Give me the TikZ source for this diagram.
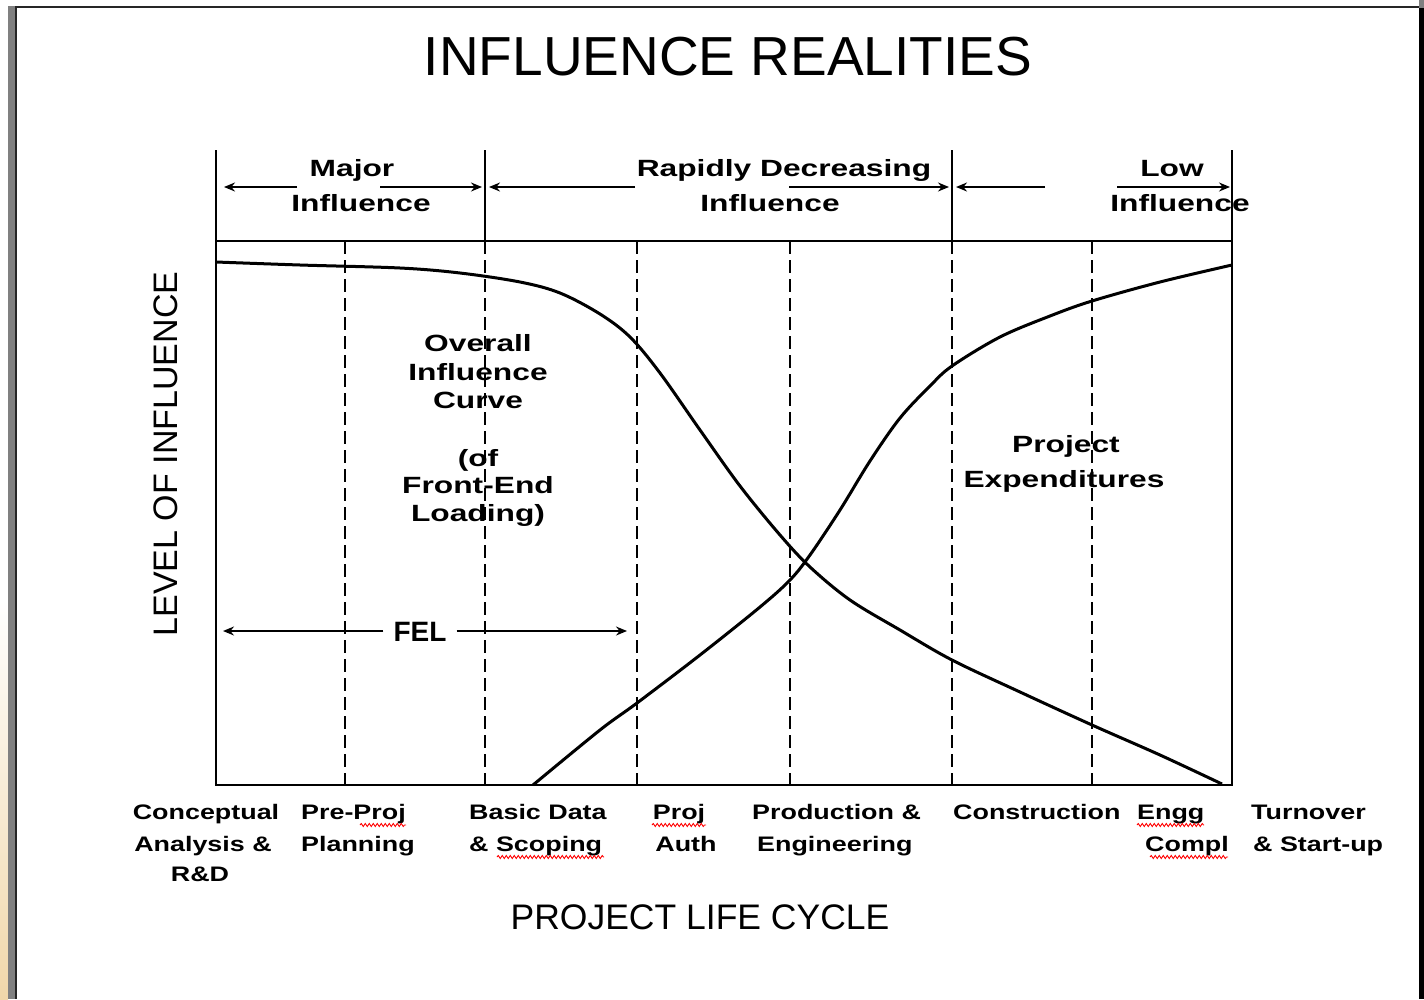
\documentclass[tikz,border=0pt]{standalone}
\usepackage{fontspec}
\setmainfont{Liberation Sans}
\newfontfamily\labfont{Liberation Sans Bold}[FakeStretch=1.35]
\newfontfamily\botfont{Liberation Sans Bold}[FakeStretch=1.28]
\newfontfamily\felfont{Liberation Sans Bold}
\usetikzlibrary{arrows.meta,decorations.pathmorphing}
\begin{document}
\begin{tikzpicture}[x=1pt,y=-1pt,
  axisline/.style={line width=2pt},
  dsh/.style={line width=1.6pt,dash pattern=on 13pt off 6pt},
  curveline/.style={line width=3pt,line join=round},
  arr/.style={line width=1.6pt,-{Stealth[length=11pt,width=9pt]}},
  toplab/.style={font=\labfont\fontsize{23.5}{28}\selectfont,inner sep=0pt,anchor=base},
  botlab/.style={font=\botfont\fontsize{21}{26}\selectfont,inner sep=0pt,anchor=base},
  fellab/.style={font=\felfont\fontsize{28}{32}\selectfont,inner sep=0pt},
  axtitle/.style={font=\fontsize{34}{40}\selectfont,inner sep=0pt},
  spell/.style={red,line width=0.9pt,decorate,decoration={snake,segment length=4pt,amplitude=1.5pt}}
]
\useasboundingbox (0,0) rectangle (1424,999);
\fill[white] (0,0) rectangle (1424,999);
% frame
\shade[top color=white,bottom color={rgb,255:red,240;green,215;blue,170}] (0,600) rectangle (8,999);
\fill[gray] (8,6) rectangle (15,999);
\fill[black!85] (15,6) rectangle (17,999);
\fill[black!85] (15,6) rectangle (1419,8);
\fill[gray] (1419,0) rectangle (1424,8);
\fill[black] (1419,8) rectangle (1424,999);

% title
\node[font=\fontsize{55}{60}\selectfont,inner sep=0pt] (title) at (728,57) {INFLUENCE REALITIES};

% frame of plot
\coordinate (tl) at (216,150);
\coordinate (bl) at (216,785);
\coordinate (tr) at (1232,150);
\coordinate (br) at (1232,785);
\coordinate (hl) at (216,241);
\coordinate (hr) at (1232,241);
\draw[axisline] (tl) -- (bl) -- (br) -- (tr);
\draw[axisline] (hl) -- (hr);
\coordinate (s1t) at (485,150); \coordinate (s1b) at (485,241);
\coordinate (s2t) at (952,150); \coordinate (s2b) at (952,241);
\draw[axisline] (s1t) -- (s1b);
\draw[axisline] (s2t) -- (s2b);

% dashed verticals
\foreach \x/\n in {345/a,485/b,637/c,790/d,952/e,1092/f}{
  \coordinate (d\n t) at (\x,241);
  \coordinate (d\n b) at (\x,785);
  \draw[dsh] (d\n t) -- (d\n b);
}

% top arrows
\coordinate (a1s) at (297,187); \coordinate (a1e) at (224,187);
\coordinate (a2s) at (380,187); \coordinate (a2e) at (482,187);
\coordinate (a3s) at (635,187); \coordinate (a3e) at (489,187);
\coordinate (a4s) at (789,187); \coordinate (a4e) at (949,187);
\coordinate (a5s) at (1045,187); \coordinate (a5e) at (956,187);
\coordinate (a6s) at (1117,187); \coordinate (a6e) at (1230,187);
\draw[arr] (a1s) -- (a1e);
\draw[arr] (a2s) -- (a2e);
\draw[arr] (a3s) -- (a3e);
\draw[arr] (a4s) -- (a4e);
\draw[arr] (a5s) -- (a5e);
\draw[arr] (a6s) -- (a6e);

% top labels
\node[toplab] (maj1) at (352,176) {Major};
\node[toplab] (maj2) at (361,211) {Influence};
\node[toplab] (rap1) at (784,176) {Rapidly Decreasing};
\node[toplab] (rap2) at (770,211) {Influence};
\node[toplab] (low1) at (1172,176) {Low};
\node[toplab] (low2) at (1180,211) {Influence};

% curves
\draw[curveline] plot[smooth,tension=0.55] coordinates {(216,262) (300,265) (400,268) (460,273) (520,282) (560,293) (600,314) (630,337) (660,373) (700,430) (740,486) (780,535) (810,567) (850,600) (900,630) (952,660) (1020,692) (1092,725) (1160,755) (1222,784)};
\draw[curveline] plot[smooth,tension=0.55] coordinates {(533,785) (600,730) (637,703) (700,655) (760,607) (790,580) (810,555) (840,510) (870,461) (900,418) (930,386) (952,366) (1000,337) (1050,316) (1092,301) (1160,282) (1232,265)};

% middle labels
\node[toplab] (ov1) at (478,351) {Overall};
\node[toplab] (ov2) at (478,380) {Influence};
\node[toplab] (ov3) at (478,408) {Curve};
\node[toplab] (ov4) at (478,466) {(of};
\node[toplab] (ov5) at (478,493) {Front-End};
\node[toplab] (ov6) at (478,521) {Loading)};
\node[toplab] (pe1) at (1066,452) {Project};
\node[toplab] (pe2) at (1064,487) {Expenditures};

% FEL
\node[fellab] (fel) at (420,632) {FEL};
\coordinate (fl) at (223,631);
\coordinate (fr) at (627,631);
\draw[arr] (fel.west) ++(-10,-1) -- (fl);
\draw[arr] (fel.east) ++(10,-1) -- (fr);

% axis titles
\node[axtitle,rotate=90] (ylab) at (166,454) {LEVEL OF INFLUENCE};
\node[axtitle,font=\fontsize{35.5}{40}\selectfont] (xlab) at (700,917) {PROJECT LIFE CYCLE};

% bottom labels
\node[botlab] (c1) at (206,819) {Conceptual};
\node[botlab] (c2) at (203,851) {Analysis \&};
\node[botlab] (c3) at (200,881) {R\&D};
\node[botlab,anchor=base west] (p1) at (301,819) {Pre-Proj};
\node[botlab,anchor=base west] (p2) at (301,851) {Planning};
\node[botlab,anchor=base west] (b1) at (469,819) {Basic Data};
\node[botlab,anchor=base west] (b2) at (469,851) {\& Scoping};
\node[botlab] (q1) at (679,819) {Proj};
\node[botlab] (q2) at (686,851) {Auth};
\node[botlab,anchor=base west] (r1) at (752,819) {Production \&};
\node[botlab,anchor=base west] (r2) at (757,851) {Engineering};
\node[botlab,anchor=base west] (k1) at (953,819) {Construction};
\node[botlab,anchor=base west] (e1) at (1137,819) {Engg};
\node[botlab,anchor=base east] (e2) at (1229,851) {Compl};
\node[botlab,anchor=base west] (t1) at (1251,819) {Turnover};
\node[botlab,anchor=base west] (t2) at (1253,851) {\& Start-up};

% spell-check squiggles
\draw[spell] (360,825) -- (406,825);
\draw[spell] (497,857) -- (604,857);
\draw[spell] (652,825) -- (706,825);
\draw[spell] (1137,825) -- (1204,825);
\draw[spell] (1150,857) -- (1228,857);
\end{tikzpicture}
\end{document}
